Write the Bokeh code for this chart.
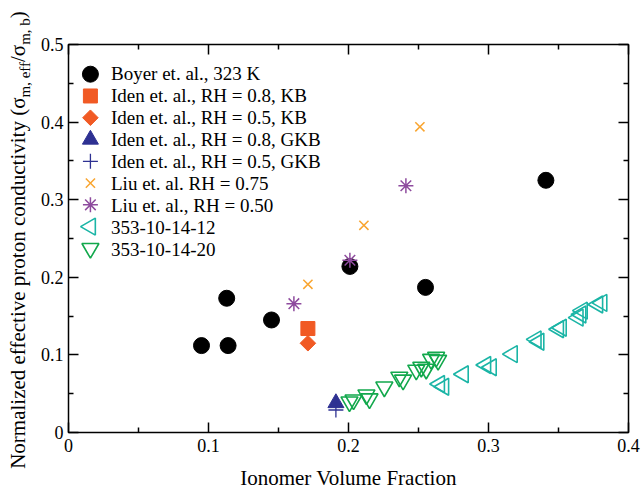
import math
from bokeh.plotting import figure
from bokeh.layouts import row
from bokeh.models import Range1d, LinearAxis, FixedTicker, Legend, LegendItem, Div
from bokeh.embed import file_html
from bokeh.resources import INLINE

# ---------------- data ----------------
boyer_x = [0.095, 0.113, 0.114, 0.145, 0.201, 0.255, 0.341]
boyer_y = [0.112, 0.173, 0.112, 0.145, 0.214, 0.187, 0.325]

iden_kb08_x = [0.171]
iden_kb08_y = [0.134]
iden_kb05_x = [0.171]
iden_kb05_y = [0.115]
iden_gkb08_x = [0.191]
iden_gkb08_y = [0.038]
iden_gkb05_x = [0.191]
iden_gkb05_y = [0.029]

liu075_x = [0.171, 0.211, 0.251]
liu075_y = [0.191, 0.267, 0.394]
liu050_x = [0.161, 0.201, 0.241]
liu050_y = [0.166, 0.222, 0.318]

s12_x = [0.265, 0.268, 0.282, 0.298, 0.302, 0.317, 0.334, 0.336, 0.350, 0.352,
         0.364, 0.366, 0.367, 0.378, 0.381]
s12_y = [0.0625, 0.059, 0.075, 0.087, 0.084, 0.101, 0.120, 0.117, 0.133, 0.135,
         0.148, 0.152, 0.157, 0.165, 0.167]

s20_x = [0.2007, 0.2036, 0.2128, 0.215, 0.2256, 0.2363, 0.239, 0.2484, 0.252,
         0.2555, 0.259, 0.2626, 0.264]
s20_y = [0.0395, 0.042, 0.0485, 0.0434, 0.0587, 0.0714, 0.0676, 0.0804, 0.0842,
         0.0816, 0.0944, 0.097, 0.093]

labels = ["Boyer et. al., 323 K",
          "Iden et. al., RH = 0.8, KB",
          "Iden et. al., RH = 0.5, KB",
          "Iden et. al., RH = 0.8, GKB",
          "Iden et. al., RH = 0.5, GKB",
          "Liu et. al. RH = 0.75",
          "Liu et. al., RH = 0.50",
          "353-10-14-12",
          "353-10-14-20"]

x_ticks = [0, 0.1, 0.2, 0.3, 0.4]
x_minor = [0.05, 0.15, 0.25, 0.35]
y_ticks = [0, 0.1, 0.2, 0.3, 0.4, 0.5]
y_minor = [0.05, 0.15, 0.25, 0.35, 0.45]

x_title = "Ionomer Volume Fraction"
y_title_main = "Normalized effective proton conductivity (\u03c3"
y_title_sub1 = "m, eff"
y_title_mid = "/\u03c3"
y_title_sub2 = "m, b"
y_title_end = ")"

FONT = "Liberation Serif"

# ---------------- layout constants ----------------
W, H = 641, 492
SIDE_W = 37
BORDER_L, BORDER_R, BORDER_T, BORDER_B = 29, 13, 44, 56
FRAME_W = W - SIDE_W - BORDER_L - BORDER_R   # 562
FRAME_H = H - BORDER_T - BORDER_B            # 392
X0, X1, Y0, Y1 = 0.0, 0.4, 0.0, 0.5

# ---------------- main figure ----------------
p = figure(width=W - SIDE_W, height=H, output_backend="svg", toolbar_location=None,
           x_range=Range1d(X0, X1), y_range=Range1d(Y0, Y1),
           min_border_left=BORDER_L, min_border_right=BORDER_R,
           min_border_top=BORDER_T, min_border_bottom=BORDER_B)
p.background_fill_color = "white"
p.border_fill_color = "white"
p.xgrid.visible = False
p.ygrid.visible = False
p.outline_line_color = "black"
p.outline_line_width = 1.5


def style_axis(ax, ticks, minor, show_labels):
    ax.ticker = FixedTicker(ticks=ticks, minor_ticks=minor)
    ax.axis_line_color = None
    ax.major_tick_in = 10
    ax.major_tick_out = 0
    ax.minor_tick_in = 5
    ax.minor_tick_out = 0
    ax.major_tick_line_color = "black"
    ax.minor_tick_line_color = "black"
    ax.major_tick_line_width = 1.5
    ax.minor_tick_line_width = 1.5
    ax.major_label_text_font = FONT
    ax.major_label_overrides = {0: "0"}
    if show_labels:
        ax.major_label_text_font_size = "18px"
        ax.major_label_text_color = "black"
    else:
        ax.major_label_text_font_size = "1px"
        ax.major_label_text_color = None
        ax.major_label_text_alpha = 0
        ax.major_label_standoff = 0


style_axis(p.xaxis[0], x_ticks, x_minor, True)
style_axis(p.yaxis[0], y_ticks, y_minor, True)
p.xaxis[0].major_label_standoff = 6
p.yaxis[0].major_label_standoff = 5
p.xaxis[0].axis_label = x_title
p.xaxis[0].axis_label_text_font = FONT
p.xaxis[0].axis_label_text_font_style = "normal"
p.xaxis[0].axis_label_text_font_size = "21px"
p.xaxis[0].axis_label_text_color = "black"
p.xaxis[0].axis_label_standoff = 11

top_ax = LinearAxis()
style_axis(top_ax, x_ticks, x_minor, False)
p.add_layout(top_ax, "above")
right_ax = LinearAxis()
style_axis(right_ax, y_ticks, y_minor, False)
p.add_layout(right_ax, "right")

# ---------------- series ----------------
ORANGE = "#F15A24"
NAVY = "#2E3192"
GOLD = "#F9A530"
PURPLE = "#8E4B9E"
TEAL = "#1BB5A6"
GREEN = "#12A84C"

styles = [
    dict(marker="circle", size=16, fill_color="black", line_color="black"),
    dict(marker="square", size=14, fill_color=ORANGE, line_color=ORANGE),
    dict(marker="square", size=11, angle=math.pi / 4, fill_color=ORANGE, line_color=ORANGE),
    dict(marker="triangle", size=16, fill_color=NAVY, line_color=NAVY),
    dict(marker="cross", size=15, line_color=NAVY, line_width=1.3),
    dict(marker="x", size=13, line_color=GOLD, line_width=1.5),
    dict(marker="asterisk", size=15, line_color=PURPLE, line_width=1.5),
    dict(marker="triangle", size=17, angle=math.pi / 2, fill_color=None, line_color=TEAL, line_width=1.6),
    dict(marker="inverted_triangle", size=17, fill_color=None, line_color=GREEN, line_width=1.6),
]
series = [(boyer_x, boyer_y), (iden_kb08_x, iden_kb08_y), (iden_kb05_x, iden_kb05_y),
          (iden_gkb08_x, iden_gkb08_y), (iden_gkb05_x, iden_gkb05_y),
          (liu075_x, liu075_y), (liu050_x, liu050_y), (s12_x, s12_y), (s20_x, s20_y)]

for (xs, ys), st in zip(series, styles):
    p.scatter(xs, ys, **st)

# ---------------- legend (labels by Legend, swatches drawn to match glyph size/angle) ----------------
LEG_X, LEG_BOTTOM, LEG_PAD, ROW_H, GLYPH_W, STANDOFF = 7, 171, 4, 22, 22, 14
n_rows = len(labels)
leg_height = 2 * LEG_PAD + n_rows * ROW_H
dummy = p.scatter(x=[], y=[], marker="circle", fill_alpha=0, line_alpha=0)
legend = Legend(items=[LegendItem(label=l, renderers=[dummy]) for l in labels],
                location=(LEG_X, LEG_BOTTOM), padding=LEG_PAD, margin=0, spacing=0,
                glyph_height=ROW_H, glyph_width=GLYPH_W, label_height=ROW_H, label_standoff=STANDOFF,
                label_text_font=FONT, label_text_font_size="19px", label_text_color="black",
                border_line_color=None, background_fill_alpha=0)
p.add_layout(legend)

sw_px_x = LEG_X + LEG_PAD + GLYPH_W / 2
sw_x = X0 + sw_px_x * (X1 - X0) / FRAME_W
leg_top_px = LEG_BOTTOM + leg_height   # from frame bottom
for i, st in enumerate(styles):
    py = leg_top_px - LEG_PAD - ROW_H / 2 - i * ROW_H
    sy = Y0 + py * (Y1 - Y0) / FRAME_H
    p.scatter([sw_x], [sy], **st)

# ---------------- rotated y title with real subscripts (HTML) ----------------
center_top = BORDER_T + FRAME_H / 2
sub_style = "font-size:15px; position:relative; top:5px;"
html = (
    f'<div style="position:relative; width:{SIDE_W}px; height:{H}px; overflow:visible;">'
    f'<div style="position:absolute; left:18.5px; top:{center_top}px; '
    f'transform:translate(-50%,-50%) rotate(-90deg); white-space:nowrap; '
    f"font-family:'{FONT}', serif; font-size:21px; line-height:21px; color:black;\">"
    f'{y_title_main}<span style="{sub_style}">{y_title_sub1}</span>'
    f'{y_title_mid}<span style="{sub_style}">{y_title_sub2}</span>{y_title_end}'
    f'</div></div>'
)
side = Div(text=html, width=SIDE_W, height=H, margin=0)

layout = row(side, p)
open("out.html", "w").write(file_html(layout, INLINE))
